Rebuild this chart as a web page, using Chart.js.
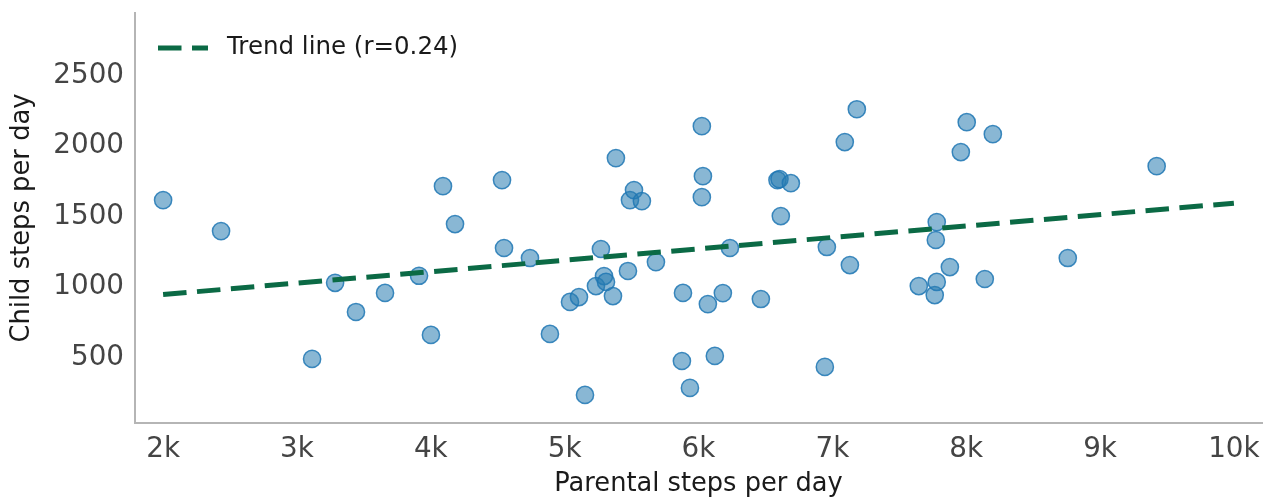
<!DOCTYPE html>
<html>
<head>
<meta charset="utf-8">
<script src="https://cdn.jsdelivr.net/npm/chart.js@4"></script>
<style>
  html, body { margin: 0; padding: 0; background: #ffffff; }
  #wrap { width: 1267px; height: 498px; position: relative; }
</style>
</head>
<body>
<div id="wrap"><canvas id="chart" width="1267" height="498"></canvas></div>
<script>
// Parental vs. child daily step counts
const parentSteps = [
  2000, 2433, 3113, 3285, 3441, 3658, 3912, 4001, 4091, 4181,
  4532, 4547, 4741, 4890, 5040, 5107, 5152, 5271, 5234, 5294,
  5309, 5361, 5383, 5473, 5488, 5518, 5577, 5682, 5876, 5884,
  5936, 6025, 6033, 6025, 6070, 6122, 6182, 6235, 6466, 6590,
  6605, 6615, 6690, 6944, 6959, 7093, 7131, 7183, 7646, 7765,
  7773, 7780, 7780, 7878, 7960, 8004, 8139, 8199, 8759, 9423
];
const childSteps = [
  1592, 1372, 465, 1005, 798, 933, 1055, 635, 1691, 1422,
  1734, 1252, 1181, 642, 869, 904, 209, 1245, 982, 1053,
  1011, 911, 1890, 1089, 1592, 1663, 1585, 1152, 450, 933,
  259, 2117, 1762, 1613, 854, 486, 932, 1252, 890, 1734,
  1741, 1479, 1712, 408, 1259, 2004, 1131, 2237, 982, 918,
  1309, 1436, 1011, 1117, 1933, 2145, 1032, 2060, 1181, 1833
];

// Fitted trend line end points
const trendX = [2000, 10000];
const trendY = [922, 1570];
const trendLabel = 'Trend line (r=0.24)';

// Axis ticks
const xTickValues = [2000, 3000, 4000, 5000, 6000, 7000, 8000, 9000, 10000];
const xTickLabels = ['2k', '3k', '4k', '5k', '6k', '7k', '8k', '9k', '10k'];
const yTickValues = [500, 1000, 1500, 2000, 2500];
const yTickLabels = ['500', '1000', '1500', '2000', '2500'];

const scatterData = parentSteps.map((x, i) => ({ x: x, y: childSteps[i] }));
const trendData = trendX.map((x, i) => ({ x: x, y: trendY[i] }));

const FONT = "'DejaVu Sans', sans-serif";
const AXIS_COLOR = '#b5b5b5';

// Legend drawn inside the plot area, top-left, for the trend line dataset
const insideLegend = {
  id: 'insideLegend',
  afterDatasetsDraw(chart, args, opts) {
    const ds = chart.data.datasets[opts.datasetIndex];
    const area = chart.chartArea;
    const ctx = chart.ctx;
    const x0 = area.left + opts.offsetX;
    const y0 = area.top + opts.offsetY;
    ctx.save();
    ctx.strokeStyle = ds.borderColor;
    ctx.lineWidth = ds.borderWidth;
    ctx.lineCap = 'butt';
    ctx.setLineDash(ds.borderDash || []);
    ctx.beginPath();
    ctx.moveTo(x0, y0);
    ctx.lineTo(x0 + opts.sampleWidth, y0);
    ctx.stroke();
    ctx.setLineDash([]);
    ctx.fillStyle = opts.color;
    ctx.font = opts.fontSize + 'px ' + FONT;
    ctx.textAlign = 'left';
    ctx.textBaseline = 'middle';
    ctx.fillText(ds.label, x0 + opts.sampleWidth + opts.gap, y0);
    ctx.restore();
  }
};

new Chart(document.getElementById('chart'), {
  type: 'scatter',
  data: {
    datasets: [
      {
        label: 'Families',
        data: scatterData,
        order: 1,
        pointRadius: 8.6,
        pointHoverRadius: 8.6,
        pointBackgroundColor: 'rgba(40,123,176,0.55)',
        pointBorderColor: 'rgba(31,119,180,0.85)',
        pointBorderWidth: 1.5,
        showLine: false
      },
      {
        type: 'line',
        label: trendLabel,
        data: trendData,
        order: 0,
        showLine: true,
        borderColor: '#0b6a45',
        backgroundColor: '#0b6a45',
        borderWidth: 5,
        borderDash: [23.5, 10.5],
        borderCapStyle: 'butt',
        pointRadius: 0,
        fill: false,
        tension: 0
      }
    ]
  },
  plugins: [insideLegend],
  options: {
    responsive: false,
    animation: false,
    events: [],
    layout: { autoPadding: false, padding: { left: 0, right: 5, top: 13, bottom: 0 } },
    plugins: {
      tooltip: { enabled: false },
      legend: { display: false },
      insideLegend: {
        datasetIndex: 1,
        offsetX: 23,
        offsetY: 35,
        sampleWidth: 50,
        gap: 19,
        fontSize: 24.5,
        color: '#1a1a1a'
      }
    },
    scales: {
      x: {
        type: 'linear',
        min: 1790,
        max: 10210,
        grid: { display: false, drawTicks: false },
        border: { display: true, color: AXIS_COLOR, width: 2 },
        ticks: {
          includeBounds: false,
          padding: 10,
          color: '#444444',
          font: { family: FONT, size: 27.8 },
          maxRotation: 0,
          autoSkip: false,
          callback: (v) => {
            const i = xTickValues.indexOf(v);
            return i >= 0 ? xTickLabels[i] : '';
          }
        },
        afterBuildTicks: (scale) => { scale.ticks = xTickValues.map(v => ({ value: v })); },
        afterFit: (scale) => { scale.height = 75; scale.paddingLeft = 0; scale.paddingRight = 0; },
        title: {
          display: true,
          text: 'Parental steps per day',
          color: '#1a1a1a',
          font: { family: FONT, size: 25.7 },
          padding: { top: 0, bottom: -2 }
        }
      },
      y: {
        type: 'linear',
        min: 10,
        max: 2920,
        grid: { display: false, drawTicks: false },
        border: { display: true, color: AXIS_COLOR, width: 2 },
        ticks: {
          includeBounds: false,
          padding: 11,
          labelOffset: 3.5,
          color: '#444444',
          font: { family: FONT, size: 27.8 },
          autoSkip: false,
          callback: (v) => {
            const i = yTickValues.indexOf(v);
            return i >= 0 ? yTickLabels[i] : '';
          }
        },
        afterBuildTicks: (scale) => { scale.ticks = yTickValues.map(v => ({ value: v })); },
        afterFit: (scale) => { scale.width = 135; scale.paddingTop = 0; scale.paddingBottom = 0; },
        title: {
          display: true,
          text: 'Child steps per day',
          color: '#1a1a1a',
          font: { family: FONT, size: 25.8 },
          padding: { top: 7, bottom: 0 }
        }
      }
    }
  }
});
</script>
</body>
</html>
